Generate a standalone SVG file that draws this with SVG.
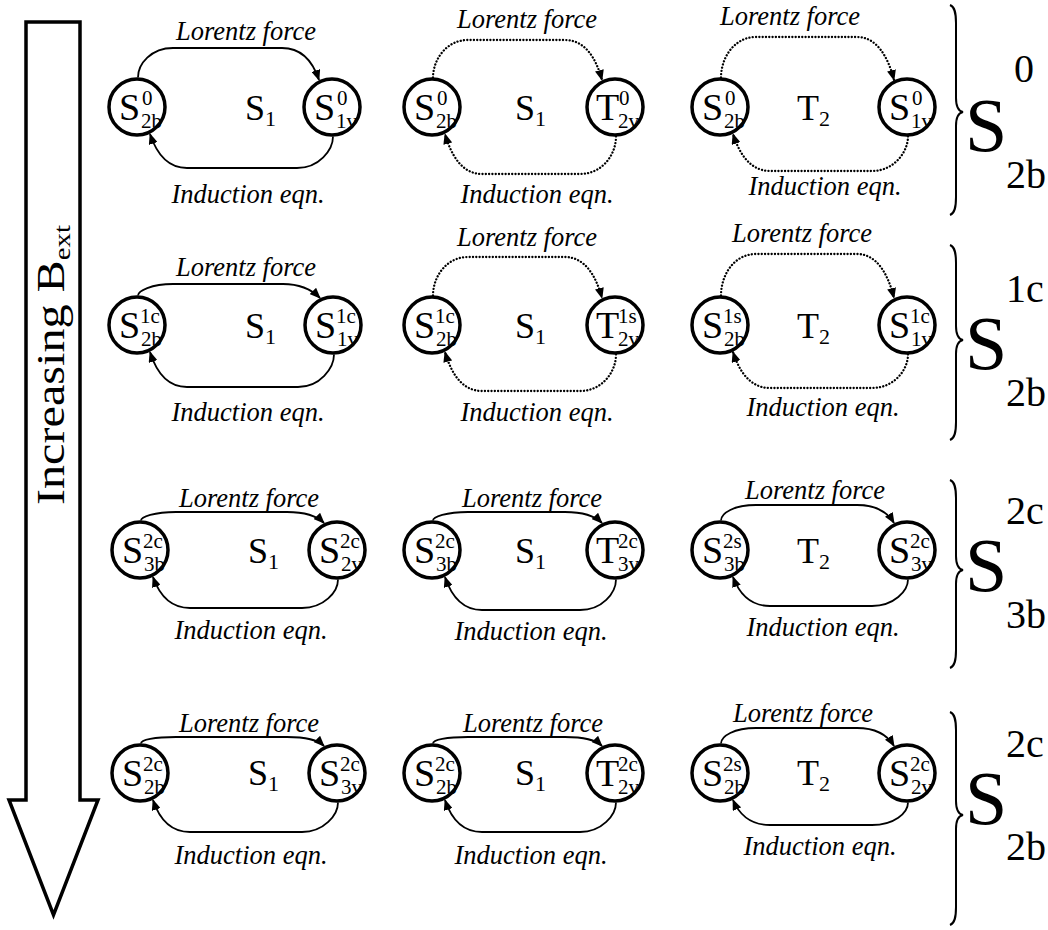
<svg xmlns="http://www.w3.org/2000/svg" width="1048" height="930" viewBox="0 0 1048 930">
<style>
text { font-family: "Liberation Serif", "Times New Roman", serif; fill: #000; }
.lab { font-style: italic; font-size: 26.5px; text-anchor: middle; }
.n { fill: #fff; stroke: #000; stroke-width: 3.5; }
.m { font-size: 38px; }
.s { font-size: 21px; }
.mid { font-size: 36px; }
.ms { font-size: 22px; }
.c { fill: none; stroke: #000; stroke-width: 1.8; marker-end: url(#ah); }
.d { stroke-dasharray: 0.1 3.2; stroke-linecap: round; stroke-width: 2.3; }
.big { font-size: 76px; }
.bigs { font-size: 40px; }
.br { fill: none; stroke: #000; stroke-width: 2; }
.arrow { fill: #fff; stroke: #000; stroke-width: 3.5; }
.at { font-size: 40px; }
</style>
<defs>
<marker id="ah" markerWidth="11" markerHeight="9" refX="10" refY="4.5" orient="auto" markerUnits="userSpaceOnUse"><path d="M0,0 L11,4.5 L0,9 z" fill="#000"/></marker>
</defs>

<g id="bigarrow">
<polygon class="arrow" points="26,22 80,22 80,800 98,800 53.5,915 9,800 26,800"/>
<text class="at" transform="translate(64,505) rotate(-90)" textLength="280" lengthAdjust="spacingAndGlyphs">Increasing B<tspan font-size="24" dy="6">ext</tspan></text>
</g>

<g id="connectors">
<!-- row 1 -->
<path class="c" d="M138,77.5 C138,64 151,48 173,48 L282,48 C302,48 313,62 319,80"/>
<path class="c" d="M333,136.5 C333,150 319,168 297,168 L187,168 C167,168 156,152 150,134"/>
<path class="c d" d="M433,77.5 C433,60 446,40 468,40 L565,40 C585,40 596,58 602,80"/>
<path class="c d" d="M616,136.5 C616,155 602,174 580,174 L482,174 C462,174 451,155 445,134"/>
<path class="c d" d="M721,77.5 C721,58 734,37 756,37 L857,37 C877,37 888,57 894,80"/>
<path class="c d" d="M908,136.5 C908,152 894,171 872,171 L770,171 C750,171 739,153 733,134"/>
<!-- row 2 -->
<path class="c" d="M138,295.5 C138,291 151,284 173,284 L283,284 C303,284 314,292 320,298"/>
<path class="c" d="M334,354.5 C334,368 320,387 298,387 L187,387 C167,387 156,371 150,352"/>
<path class="c d" d="M433,295.5 C433,277 446,257 468,257 L565,257 C585,257 596,276 602,298"/>
<path class="c d" d="M616,354.5 C616,372 602,391 580,391 L482,391 C462,391 451,373 445,352"/>
<path class="c d" d="M721,295.5 C721,275 734,254 756,254 L857,254 C877,254 888,274 894,298"/>
<path class="c d" d="M908,354.5 C908,370 894,388 872,388 L770,388 C750,388 739,371 733,352"/>
<!-- row 3 -->
<path class="c" d="M141,520.5 C141,517 154,512 176,512 L287,512 C307,512 318,517 324,523"/>
<path class="c" d="M338,579.5 C338,592 324,608 302,608 L190,608 C170,608 159,594 153,577"/>
<path class="c" d="M433,520.5 C433,517 446,512 468,512 L565,512 C585,512 596,517 602,523"/>
<path class="c" d="M616,579.5 C616,593 602,610 580,610 L482,610 C462,610 451,595 445,577"/>
<path class="c" d="M721,520.5 C721,513 734,505 756,505 L857,505 C877,505 888,513 894,523"/>
<path class="c" d="M908,579.5 C908,591 894,606 872,606 L770,606 C750,606 739,593 733,577"/>
<!-- row 4 -->
<path class="c" d="M141,743.5 C141,740 154,737 176,737 L287,737 C307,737 318,740 324,746"/>
<path class="c" d="M338,802.5 C338,815 324,832 302,832 L190,832 C170,832 159,818 153,800"/>
<path class="c" d="M433,743.5 C433,740 446,737 468,737 L565,737 C585,737 596,740 602,746"/>
<path class="c" d="M616,802.5 C616,815 602,832 580,832 L482,832 C462,832 451,818 445,800"/>
<path class="c" d="M721,743.5 C721,736 734,728 756,728 L857,728 C877,728 888,736 894,746"/>
<path class="c" d="M908,802.5 C908,813 894,825 872,825 L770,825 C750,825 739,814 733,800"/>
</g>

<g id="labels">
<text class="lab" x="246" y="40">Lorentz force</text>
<text class="lab" x="248" y="203">Induction eqn.</text>
<text class="lab" x="527" y="28">Lorentz force</text>
<text class="lab" x="537" y="203">Induction eqn.</text>
<text class="lab" x="790" y="25">Lorentz force</text>
<text class="lab" x="825" y="195">Induction eqn.</text>

<text class="lab" x="246" y="276">Lorentz force</text>
<text class="lab" x="248" y="421">Induction eqn.</text>
<text class="lab" x="527" y="246">Lorentz force</text>
<text class="lab" x="537" y="421">Induction eqn.</text>
<text class="lab" x="802" y="242">Lorentz force</text>
<text class="lab" x="823" y="416">Induction eqn.</text>

<text class="lab" x="249" y="507">Lorentz force</text>
<text class="lab" x="251" y="639">Induction eqn.</text>
<text class="lab" x="532" y="507">Lorentz force</text>
<text class="lab" x="531" y="640">Induction eqn.</text>
<text class="lab" x="815" y="499">Lorentz force</text>
<text class="lab" x="823" y="636">Induction eqn.</text>

<text class="lab" x="249" y="732">Lorentz force</text>
<text class="lab" x="251" y="864">Induction eqn.</text>
<text class="lab" x="533" y="732">Lorentz force</text>
<text class="lab" x="531" y="864">Induction eqn.</text>
<text class="lab" x="803" y="722">Lorentz force</text>
<text class="lab" x="820" y="855">Induction eqn.</text>

<text class="mid" x="245" y="120">S<tspan class="ms" dy="6">1</tspan></text>
<text class="mid" x="515" y="120">S<tspan class="ms" dy="6">1</tspan></text>
<text class="mid" x="797" y="120">T<tspan class="ms" dy="6">2</tspan></text>
<text class="mid" x="245" y="338">S<tspan class="ms" dy="6">1</tspan></text>
<text class="mid" x="515" y="338">S<tspan class="ms" dy="6">1</tspan></text>
<text class="mid" x="797" y="338">T<tspan class="ms" dy="6">2</tspan></text>
<text class="mid" x="248" y="563">S<tspan class="ms" dy="6">1</tspan></text>
<text class="mid" x="515" y="563">S<tspan class="ms" dy="6">1</tspan></text>
<text class="mid" x="797" y="563">T<tspan class="ms" dy="6">2</tspan></text>
<text class="mid" x="248" y="785">S<tspan class="ms" dy="6">1</tspan></text>
<text class="mid" x="515" y="785">S<tspan class="ms" dy="6">1</tspan></text>
<text class="mid" x="797" y="785">T<tspan class="ms" dy="6">2</tspan></text>
</g>

<!-- row 1 nodes -->
<g id="r1c1a"><circle class="n" cx="137" cy="107" r="28"/><text class="m" x="119" y="120">S</text><text class="s" x="142" y="105">0</text><text class="s" x="141" y="128">2b</text></g>
<g id="r1c1b"><circle class="n" cx="332" cy="107" r="28"/><text class="m" x="314" y="120">S</text><text class="s" x="337" y="105">0</text><text class="s" x="336" y="128">1v</text></g>
<g id="r1c2a"><circle class="n" cx="432" cy="107" r="28"/><text class="m" x="414" y="120">S</text><text class="s" x="437" y="105">0</text><text class="s" x="436" y="128">2b</text></g>
<g id="r1c2b"><circle class="n" cx="615" cy="107" r="28"/><text class="m" x="596" y="120">T</text><text class="s" x="619" y="105">0</text><text class="s" x="618" y="128">2v</text></g>
<g id="r1c3a"><circle class="n" cx="720" cy="107" r="28"/><text class="m" x="702" y="120">S</text><text class="s" x="725" y="105">0</text><text class="s" x="724" y="128">2b</text></g>
<g id="r1c3b"><circle class="n" cx="907" cy="107" r="28"/><text class="m" x="889" y="120">S</text><text class="s" x="912" y="105">0</text><text class="s" x="911" y="128">1v</text></g>

<!-- row 2 nodes -->
<g id="r2c1a"><circle class="n" cx="137" cy="325" r="28"/><text class="m" x="119" y="338">S</text><text class="s" x="140" y="323">1c</text><text class="s" x="141" y="346">2b</text></g>
<g id="r2c1b"><circle class="n" cx="333" cy="325" r="28"/><text class="m" x="315" y="338">S</text><text class="s" x="336" y="323">1c</text><text class="s" x="337" y="346">1v</text></g>
<g id="r2c2a"><circle class="n" cx="432" cy="325" r="28"/><text class="m" x="414" y="338">S</text><text class="s" x="435" y="323">1c</text><text class="s" x="436" y="346">2b</text></g>
<g id="r2c2b"><circle class="n" cx="615" cy="325" r="28"/><text class="m" x="596" y="338">T</text><text class="s" x="618" y="323">1s</text><text class="s" x="618" y="346">2v</text></g>
<g id="r2c3a"><circle class="n" cx="720" cy="325" r="28"/><text class="m" x="702" y="338">S</text><text class="s" x="723" y="323">1s</text><text class="s" x="724" y="346">2b</text></g>
<g id="r2c3b"><circle class="n" cx="907" cy="325" r="28"/><text class="m" x="889" y="338">S</text><text class="s" x="910" y="323">1c</text><text class="s" x="911" y="346">1v</text></g>

<!-- row 3 nodes -->
<g id="r3c1a"><circle class="n" cx="140" cy="550" r="28"/><text class="m" x="122" y="563">S</text><text class="s" x="143" y="548">2c</text><text class="s" x="144" y="571">3b</text></g>
<g id="r3c1b"><circle class="n" cx="337" cy="550" r="28"/><text class="m" x="319" y="563">S</text><text class="s" x="340" y="548">2c</text><text class="s" x="341" y="571">2v</text></g>
<g id="r3c2a"><circle class="n" cx="432" cy="550" r="28"/><text class="m" x="414" y="563">S</text><text class="s" x="435" y="548">2c</text><text class="s" x="436" y="571">3b</text></g>
<g id="r3c2b"><circle class="n" cx="615" cy="550" r="28"/><text class="m" x="596" y="563">T</text><text class="s" x="618" y="548">2c</text><text class="s" x="618" y="571">3v</text></g>
<g id="r3c3a"><circle class="n" cx="720" cy="550" r="28"/><text class="m" x="702" y="563">S</text><text class="s" x="723" y="548">2s</text><text class="s" x="724" y="571">3b</text></g>
<g id="r3c3b"><circle class="n" cx="907" cy="550" r="28"/><text class="m" x="889" y="563">S</text><text class="s" x="910" y="548">2c</text><text class="s" x="911" y="571">3v</text></g>

<!-- row 4 nodes -->
<g id="r4c1a"><circle class="n" cx="140" cy="773" r="28"/><text class="m" x="122" y="786">S</text><text class="s" x="143" y="771">2c</text><text class="s" x="144" y="794">2b</text></g>
<g id="r4c1b"><circle class="n" cx="337" cy="773" r="28"/><text class="m" x="319" y="786">S</text><text class="s" x="340" y="771">2c</text><text class="s" x="341" y="794">3v</text></g>
<g id="r4c2a"><circle class="n" cx="432" cy="773" r="28"/><text class="m" x="414" y="786">S</text><text class="s" x="435" y="771">2c</text><text class="s" x="436" y="794">2b</text></g>
<g id="r4c2b"><circle class="n" cx="615" cy="773" r="28"/><text class="m" x="596" y="786">T</text><text class="s" x="618" y="771">2c</text><text class="s" x="618" y="794">2v</text></g>
<g id="r4c3a"><circle class="n" cx="720" cy="773" r="28"/><text class="m" x="702" y="786">S</text><text class="s" x="723" y="771">2s</text><text class="s" x="724" y="794">2b</text></g>
<g id="r4c3b"><circle class="n" cx="907" cy="773" r="28"/><text class="m" x="889" y="786">S</text><text class="s" x="910" y="771">2c</text><text class="s" x="911" y="794">2v</text></g>

<!-- braces and group labels -->
<g id="brace1"><path class="br" d="M950,5 C955,7 956,13 956,23 L956,98 C956,107 958,111 963,112 C958,113 956,117 956,126 L956,197 C956,207 955,213 950,215"/>
<text class="big" x="965" y="151">S</text><text class="bigs" x="1014" y="82">0</text><text class="bigs" x="1006" y="188">2b</text></g>
<g id="brace2"><path class="br" d="M950,245 C955,247 956,253 956,263 L956,326 C956,335 958,339 963,340 C958,341 956,345 956,354 L956,422 C956,432 955,438 950,440"/>
<text class="big" x="965" y="369">S</text><text class="bigs" x="1006" y="302">1c</text><text class="bigs" x="1006" y="406">2b</text></g>
<g id="brace3"><path class="br" d="M950,480 C955,482 956,488 956,498 L956,556 C956,565 958,569 963,570 C958,571 956,575 956,584 L956,650 C956,660 955,666 950,668"/>
<text class="big" x="965" y="591">S</text><text class="bigs" x="1006" y="524">2c</text><text class="bigs" x="1006" y="628">3b</text></g>
<g id="brace4"><path class="br" d="M950,712 C955,714 956,720 956,730 L956,801 C956,810 958,814 963,815 C958,816 956,820 956,829 L956,907 C956,917 955,923 950,925"/>
<text class="big" x="965" y="824">S</text><text class="bigs" x="1006" y="757">2c</text><text class="bigs" x="1006" y="860">2b</text></g>
</svg>
